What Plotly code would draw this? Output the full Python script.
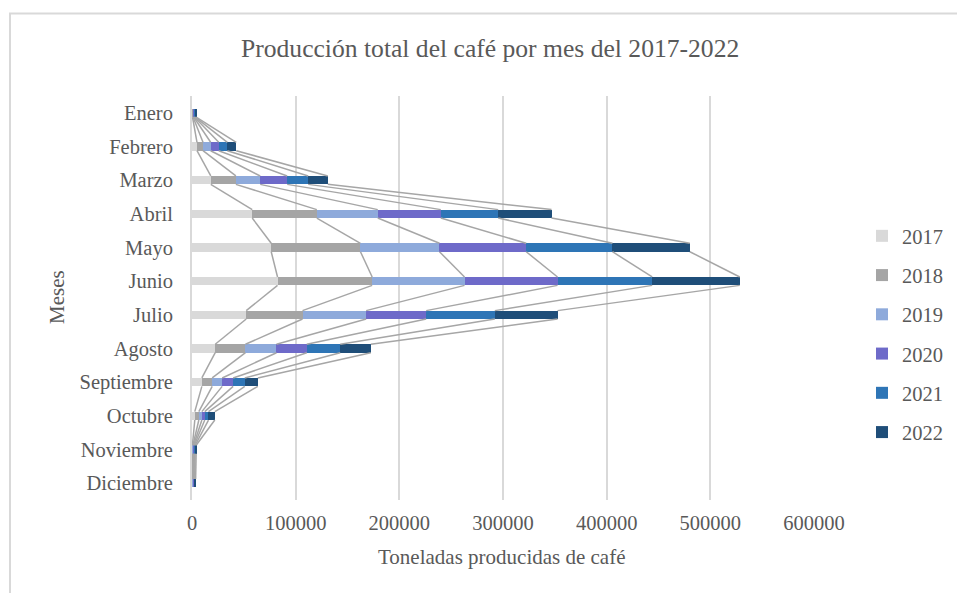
import plotly.graph_objects as go

# Monthly coffee production (tonnes), one list per year
meses = ["Enero", "Febrero", "Marzo", "Abril", "Mayo", "Junio", "Julio",
         "Agosto", "Septiembre", "Octubre", "Noviembre", "Diciembre"]
anios = ["2017", "2018", "2019", "2020", "2021", "2022"]

p2017 = [500, 4800, 18100, 58100, 76400, 82500, 52300, 22400, 9500, 2700, 400, 400]
p2018 = [500, 5800, 24200, 62300, 86100, 91300, 54300, 29200, 10000, 3900, 500, 500]
p2019 = [600, 7400, 23500, 58800, 76200, 89100, 61400, 29900, 9600, 2900, 600, 500]
p2020 = [700, 7800, 26000, 60800, 83700, 89700, 57900, 29200, 10600, 2800, 700, 600]
p2021 = [800, 8300, 20300, 55400, 83200, 91300, 66200, 32300, 11200, 3600, 800, 700]
p2022 = [900, 8600, 18900, 51400, 74600, 84500, 60500, 29500, 12600, 6100, 1000, 800]

series = [p2017, p2018, p2019, p2020, p2021, p2022]
colores = ["#d9d9d9", "#a5a5a5", "#8eaadb", "#6e6ac9", "#2e75b6", "#1f4e79"]

ticks_x = [0, 100000, 200000, 300000, 400000, 500000, 600000]

W, H = 957, 593
BAR_W = 0.25
TEXT = "#595959"
FONT = "Liberation Serif"

fig = go.Figure()
pos = list(range(len(meses)))

for nombre, vals, col in zip(anios, series, colores):
    fig.add_trace(go.Bar(
        y=pos, x=vals, orientation="h", name=nombre,
        marker=dict(color=col, line=dict(width=0)),
        width=BAR_W, legendgroup=nombre,
    ))

# Series lines: join the end of each year's segment to the same point on the next month
acum = [0] * len(meses)
for vals in series:
    acum = [a + v for a, v in zip(acum, vals)]
    xs, ys = [], []
    for i in range(len(meses) - 1):
        xs += [acum[i], acum[i + 1], None]
        ys += [i + BAR_W / 2, i + 1 - BAR_W / 2, None]
    fig.add_trace(go.Scatter(
        x=xs, y=ys, mode="lines", showlegend=False, hoverinfo="skip",
        line=dict(color="#a6a6a6", width=1.5),
    ))

x0, x1 = 192, 814
y0, y1 = 96, 500

fig.update_layout(
    width=W, height=H,
    margin=dict(l=0, r=0, t=0, b=0),
    paper_bgcolor="white", plot_bgcolor="white",
    barmode="stack", bargap=0,
    font=dict(family=FONT, color=TEXT, size=20),
    xaxis=dict(
        domain=[x0 / W, x1 / W], range=[0, 600000],
        tickvals=ticks_x, ticktext=[str(v) for v in ticks_x],
        showgrid=True, gridcolor="#d9d9d9", gridwidth=2,
        zeroline=False, showline=False, ticks="",
        ticklabelstandoff=8, automargin=False,
        tickfont=dict(size=20.5, color=TEXT, family=FONT),
    ),
    yaxis=dict(
        domain=[1 - y1 / H, 1 - y0 / H], range=[11.5, -0.5],
        tickvals=pos, ticktext=meses,
        showgrid=False, zeroline=False,
        showline=True, linecolor="#d9d9d9", linewidth=2,
        ticks="", ticklabelstandoff=13, automargin=False,
        tickfont=dict(size=20.5, color=TEXT, family=FONT),
    ),
    legend=dict(
        x=862 / W, y=1 - 216 / H, xanchor="left", yanchor="top",
        traceorder="grouped", tracegroupgap=9.6,
        font=dict(size=20.5, color=TEXT, family=FONT),
        bgcolor="rgba(0,0,0,0)", itemwidth=30,
    ),
    showlegend=True,
    annotations=[
        dict(text="Producción total del café por mes del 2017-2022",
             x=489.5 / W, y=1 - 48 / H, xref="paper", yref="paper",
             xanchor="center", yanchor="middle", showarrow=False,
             font=dict(size=25.6, color=TEXT, family=FONT)),
        dict(text="Toneladas producidas de café",
             x=502 / W, y=1 - 557 / H, xref="paper", yref="paper",
             xanchor="center", yanchor="middle", showarrow=False,
             font=dict(size=21, color=TEXT, family=FONT)),
        dict(text="Meses", textangle=-90,
             x=57 / W, y=1 - 297 / H, xref="paper", yref="paper",
             xanchor="center", yanchor="middle", showarrow=False,
             font=dict(size=21, color=TEXT, family=FONT)),
    ],
    shapes=[
        dict(type="rect", xref="paper", yref="paper",
             x0=10 / W, x1=1.05, y0=-0.05, y1=1 - 13.5 / H,
             line=dict(color="#d9d9d9", width=2), layer="below"),
    ],
)

fig.write_html("out.html")
